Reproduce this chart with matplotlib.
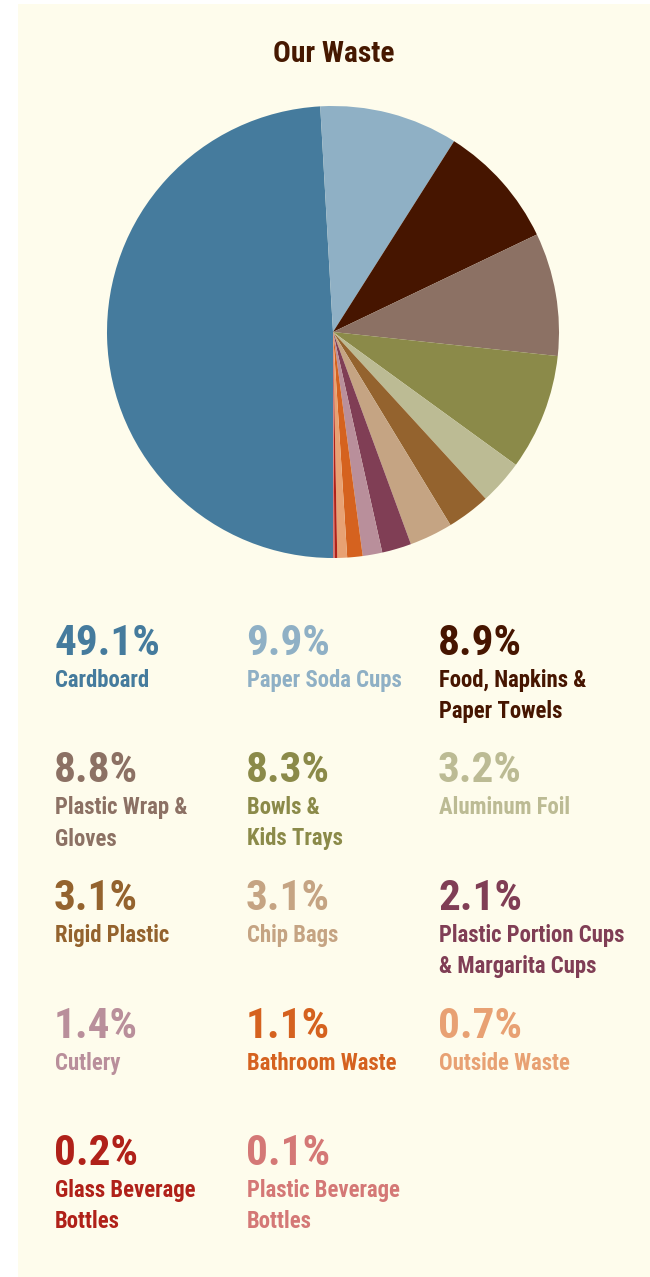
import matplotlib
matplotlib.use("Agg")
import matplotlib.pyplot as plt
from matplotlib.patches import Rectangle
from matplotlib import font_manager as fm

categories = ["Cardboard", "Paper Soda Cups", "Food, Napkins &\nPaper Towels",
              "Plastic Wrap &\nGloves", "Bowls &\nKids Trays", "Aluminum Foil",
              "Rigid Plastic", "Chip Bags", "Plastic Portion Cups\n& Margarita Cups",
              "Cutlery", "Bathroom Waste", "Outside Waste",
              "Glass Beverage\nBottles", "Plastic Beverage\nBottles"]
values = [49.1, 9.9, 8.9, 8.8, 8.3, 3.2, 3.1, 3.1, 2.1, 1.4, 1.1, 0.7, 0.2, 0.1]
colors = ["#457b9d", "#8fb0c5", "#461500", "#8c7164", "#8b8a49", "#bcbb94",
          "#94632e", "#c5a483", "#803e55", "#b98f9b", "#d5621f", "#e8a173",
          "#b02119", "#d47876"]
title = "Our Waste"

# pick a condensed bold font if one is installed
def pick_font():
    prefs = ["liberationsansnarrow-bold.", "robotocondensed-bold.", "opensanscondensed-bold.",
             "opensans_condensed-bold.", "dejavusanscondensed-bold."]
    files = [f.fname for f in fm.fontManager.ttflist]
    low = {f.lower().split("/")[-1]: f for f in files}
    for p in prefs:
        for k, v in low.items():
            if k.startswith(p):
                return fm.FontProperties(fname=v)
    for k, v in low.items():
        if ("narrow" in k or "condensed" in k) and "bold" in k and "italic" not in k \
                and "oblique" not in k and "semi" not in k and "extra" not in k:
            return fm.FontProperties(fname=v)
    return fm.FontProperties(family=["Roboto", "DejaVu Sans"], weight="bold")

FP = pick_font()

W, H = 650, 1277
fig = plt.figure(figsize=(W / 100, H / 100), dpi=100)
fig.patch.set_facecolor("white")
fig.patches.append(Rectangle((18 / W, 0), 1 - 18 / W, 1 - 4 / H, transform=fig.transFigure,
                             facecolor="#fefcec", edgecolor="none", zorder=-5))

def fx(x):
    return x / W

def fy(y):
    return 1 - y / H

renderer = fig.canvas.get_renderer()

def fit_size(s, target_w, base=20):
    fp = FP.copy()
    fp.set_size(base)
    t = fig.text(0, 0, s, fontproperties=fp)
    w = t.get_window_extent(renderer).width
    t.remove()
    return base * target_w / w

size_title = fit_size(title, 121)
size_pct = fit_size("49.1%", 106)
size_lab = fit_size("Paper Soda Cups", 155)

def txt(x, y, s, size, color, ha="left"):
    fp = FP.copy()
    fp.set_size(size)
    fig.text(fx(x), fy(y), s, ha=ha, va="baseline", fontproperties=fp, color=color)

txt(334, 62, title, size_title, "#461800", ha="center")

cx, cy, r = 333, 332, 226
ax = fig.add_axes([fx(cx - r), fy(cy + r), 2 * r / W, 2 * r / H])
ax.pie(values, colors=colors, startangle=-90, counterclock=False, radius=1,
       wedgeprops=dict(linewidth=0))
ax.set_xlim(-1, 1)
ax.set_ylim(-1, 1)
ax.set_aspect("equal")
ax.axis("off")

col_x = [55, 247, 439]
pct_base = [655, 782, 910, 1038, 1165]
for i, (cat, v, c) in enumerate(zip(categories, values, colors)):
    row, col = divmod(i, 3)
    x = col_x[col]
    yb = pct_base[row]
    txt(x - 1, yb, f"{v:.1f}%", size_pct, c)
    for j, line in enumerate(cat.split("\n")):
        txt(x, yb + 32 + 31.5 * j, line, size_lab, c)

fig.savefig("out.png", dpi=100, facecolor=fig.get_facecolor())
